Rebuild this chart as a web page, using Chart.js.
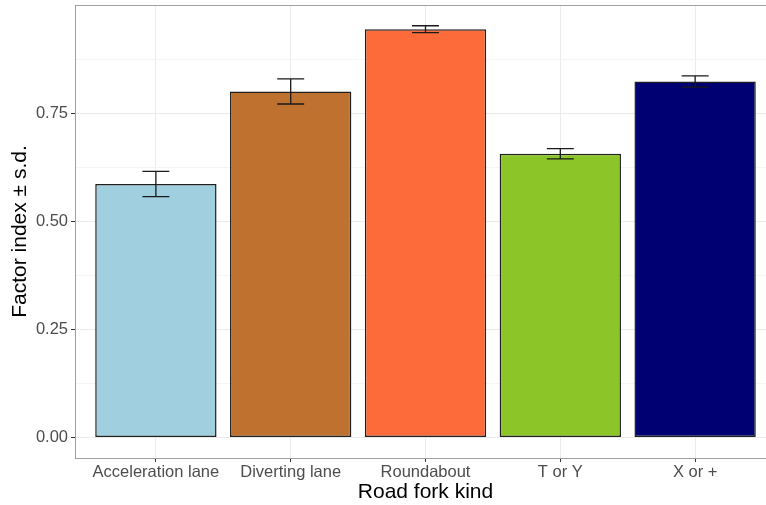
<!DOCTYPE html>
<html>
<head>
<meta charset="utf-8">
<script src="https://cdn.jsdelivr.net/npm/chart.js@4"></script>
<style>
html,body{margin:0;padding:0;background:#fff;overflow:hidden;}
#wrap{position:relative;width:780px;height:505px;}
</style>
</head>
<body>
<div id="wrap"><canvas id="c"></canvas></div>
<script>
const categories = ["Acceleration lane", "Diverting lane", "Roundabout", "T or Y", "X or +"];
const means = [0.586, 0.800, 0.944, 0.656, 0.823];
const sds = [0.029, 0.029, 0.008, 0.012, 0.013];
const barColors = ["#A0CFE0", "#BF7230", "#FD6B3A", "#8BC528", "#000073"];
const yTicks = [0, 0.125, 0.25, 0.375, 0.5, 0.625, 0.75, 0.875];
const yMajor = [0, 0.25, 0.5, 0.75];

const isMajor = v => yMajor.some(m => Math.abs(m - v) < 1e-9);

const errorBars = {
  id: 'errorBars',
  afterDatasetsDraw(chart) {
    const {ctx, scales: {x, y}} = chart;
    ctx.save();
    ctx.strokeStyle = '#1a1a1a';
    ctx.lineWidth = 1.3;
    means.forEach((m, i) => {
      const xc = x.getPixelForValue(i + 1);
      const xl = x.getPixelForValue(i + 1 - 0.1);
      const xr = x.getPixelForValue(i + 1 + 0.1);
      const yt = y.getPixelForValue(m + sds[i]);
      const yb = y.getPixelForValue(m - sds[i]);
      ctx.beginPath();
      ctx.moveTo(xc, yt); ctx.lineTo(xc, yb);
      ctx.moveTo(xl, yt); ctx.lineTo(xr, yt);
      ctx.moveTo(xl, yb); ctx.lineTo(xr, yb);
      ctx.stroke();
    });
    ctx.restore();
  }
};

const panelBorder = {
  id: 'panelBorder',
  afterDraw(chart) {
    const {ctx, chartArea: a} = chart;
    ctx.save();
    ctx.strokeStyle = '#A0A0A0';
    ctx.lineWidth = 1;
    ctx.strokeRect(Math.round(a.left) + 0.5, Math.round(a.top) + 0.5, Math.round(a.right - a.left), Math.round(a.bottom - a.top));
    ctx.restore();
  }
};

new Chart(document.getElementById('c'), {
  type: 'bar',
  data: {
    datasets: [{
      data: means.map((m, i) => ({x: i + 1, y: m})),
      backgroundColor: barColors,
      borderColor: '#1f1f1f',
      borderWidth: 1.5,
      borderSkipped: false,
      categoryPercentage: 1,
      barPercentage: 0.9
    }]
  },
  options: {
    responsive: true,
    maintainAspectRatio: false,
    animation: false,
    layout: {padding: {top: 5, right: 4, left: 0, bottom: 0}},
    plugins: {legend: {display: false}, tooltip: {enabled: false}},
    scales: {
      x: {
        type: 'linear',
        offset: false,
        min: 0.4,
        max: 5.6,
        afterBuildTicks: s => { s.ticks = categories.map((c, i) => ({value: i + 1})); },
        afterFit: s => { s.height = 47; s.paddingLeft = 0; s.paddingRight = 0; },
        grid: {offset: false, color: '#EBEBEB', lineWidth: 1, tickLength: 4, tickColor: '#333333', drawOnChartArea: true},
        border: {display: false},
        ticks: {
          callback: v => categories[Math.round(v) - 1] || '',
          color: '#4D4D4D',
          font: {family: 'Liberation Sans', size: 16.5},
          padding: 1,
          maxRotation: 0,
          autoSkip: false
        },
        title: {
          display: true,
          text: 'Road fork kind',
          color: '#000000',
          font: {family: 'Liberation Sans', size: 21},
          padding: {top: 0, bottom: 0}
        }
      },
      y: {
        min: -0.0477,
        max: 1.0,
        afterBuildTicks: s => { s.ticks = yTicks.map(v => ({value: v})); },
        afterFit: s => { s.width = 75; s.paddingTop = 0; s.paddingBottom = 0; },
        grid: {
          color: c => (c.tick && isMajor(c.tick.value)) ? '#EBEBEB' : '#F5F5F5',
          tickColor: c => (c.tick && isMajor(c.tick.value)) ? '#333333' : 'rgba(0,0,0,0)',
          tickLength: 4,
          lineWidth: 1
        },
        border: {display: false},
        ticks: {
          callback: v => isMajor(v) ? v.toFixed(2) : '',
          color: '#4D4D4D',
          font: {family: 'Liberation Sans', size: 16.5},
          padding: 3,
          autoSkip: false
        },
        title: {
          display: true,
          text: 'Factor index ± s.d.',
          color: '#000000',
          font: {family: 'Liberation Sans', size: 21},
          padding: {top: 8, bottom: 0}
        }
      }
    }
  },
  plugins: [errorBars, panelBorder]
});
</script>
</body>
</html>
